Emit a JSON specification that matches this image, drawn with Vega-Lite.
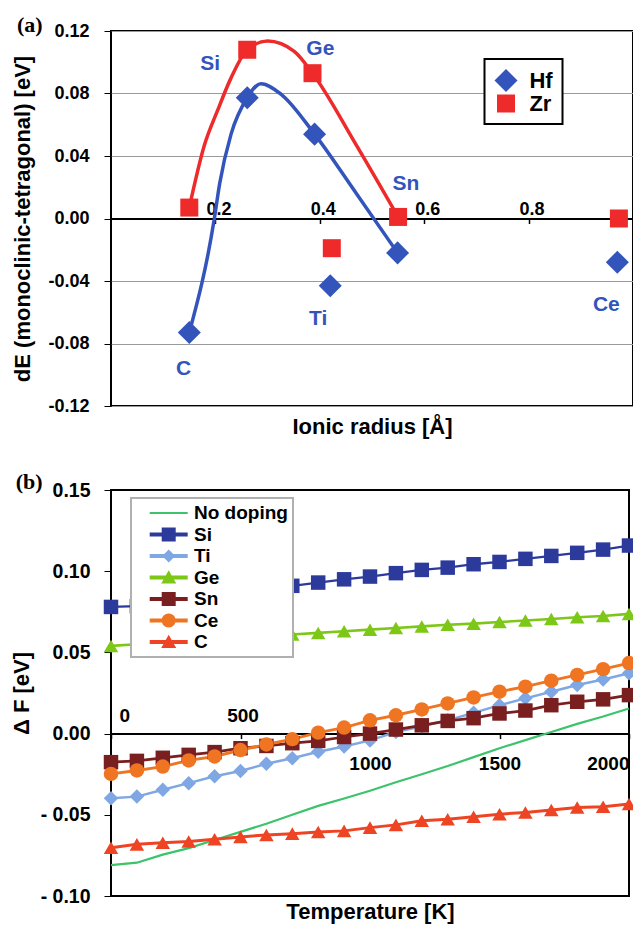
{
  "$schema": "https://vega.github.io/schema/vega-lite/v6.json",
  "background": "white",
  "padding": {"left": 9, "top": 13, "right": 0, "bottom": 0},
  "spacing": 31,
  "config": {
    "font": "Liberation Sans",
    "view": {"stroke": "black", "strokeWidth": 2},
    "axis": {"labelFont": "Liberation Sans", "labelFontWeight": "bold", "labelColor": "black", "titleFont": "Liberation Sans", "titleFontWeight": "bold", "titleColor": "black", "tickColor": "black", "domainColor": "black", "labelFontSize": 18, "titleFontSize": 22},
    "legend": {"labelFont": "Liberation Sans", "labelFontWeight": "bold", "labelColor": "black", "strokeWidth": 2}
  },
  "vconcat": [
    {
      "width": 522,
      "height": 375,
      "title": {"text": "(a)", "anchor": "start", "frame": "bounds", "font": "Liberation Serif", "fontSize": 22, "fontWeight": "bold", "color": "black", "baseline": "alphabetic", "offset": -32, "dx": 5},
      "encoding": {
        "x": {"field": "r", "type": "quantitative", "scale": {"domain": [0, 1], "nice": false, "zero": false},
          "axis": {"orient": "bottom", "offset": -187.5, "values": [0.2, 0.4, 0.6, 0.8], "format": ".1f", "grid": false, "domainWidth": 2, "tickSize": 5, "tickWidth": 1.5, "labelBaseline": "alphabetic", "labelPadding": -9.5, "labelOffset": 3, "title": "Ionic radius [Å]", "titlePadding": 192}},
        "y": {"field": "dE", "type": "quantitative", "scale": {"domain": [-0.12, 0.12], "nice": false, "zero": false},
          "axis": {"values": [-0.12, -0.08, -0.04, 0, 0.04, 0.08, 0.12], "labelExpr": "(datum.value < 0 ? '-' : '') + format(abs(datum.value), '.2f')", "grid": true, "gridColor": {"condition": {"test": "datum.value == 0", "value": "black"}, "value": "#9a9a9a"}, "gridWidth": 1.2, "domain": false, "tickSize": 7, "labelPadding": 15, "title": "dE (monoclinic-tetragonal) [eV]", "titlePadding": 13}}
      },
      "layer": [
        {
          "data": {"values": [
            {"metal": "Zr", "r": 0.150, "dE": 0.007},
            {"metal": "Zr", "r": 0.179, "dE": 0.047},
            {"metal": "Zr", "r": 0.204, "dE": 0.069},
            {"metal": "Zr", "r": 0.230, "dE": 0.090},
            {"metal": "Zr", "r": 0.261, "dE": 0.108},
            {"metal": "Zr", "r": 0.300, "dE": 0.1136},
            {"metal": "Zr", "r": 0.351, "dE": 0.107},
            {"metal": "Zr", "r": 0.386, "dE": 0.093},
            {"metal": "Zr", "r": 0.470, "dE": 0.047},
            {"metal": "Zr", "r": 0.550, "dE": 0.001},
            {"metal": "Hf", "r": 0.150, "dE": -0.073},
            {"metal": "Hf", "r": 0.198, "dE": 0.0},
            {"metal": "Hf", "r": 0.208, "dE": 0.022},
            {"metal": "Hf", "r": 0.230, "dE": 0.054},
            {"metal": "Hf", "r": 0.261, "dE": 0.0773},
            {"metal": "Hf", "r": 0.287, "dE": 0.0863},
            {"metal": "Hf", "r": 0.326, "dE": 0.0795},
            {"metal": "Hf", "r": 0.390, "dE": 0.054},
            {"metal": "Hf", "r": 0.470, "dE": 0.016},
            {"metal": "Hf", "r": 0.549, "dE": -0.022}
          ]},
          "mark": {"type": "line", "interpolate": "monotone", "strokeWidth": 3.5},
          "encoding": {
            "color": {"field": "metal", "type": "nominal", "scale": {"domain": ["Hf", "Zr"], "range": ["#3355bb", "#ee2a2a"]}, "legend": null}
          }
        },
        {
          "data": {"values": [
            {"metal": "Hf", "dopant": "C", "r": 0.150, "dE": -0.073},
            {"metal": "Hf", "dopant": "Si", "r": 0.261, "dE": 0.0773},
            {"metal": "Hf", "dopant": "Ge", "r": 0.390, "dE": 0.054},
            {"metal": "Hf", "dopant": "Ti", "r": 0.420, "dE": -0.043},
            {"metal": "Hf", "dopant": "Sn", "r": 0.549, "dE": -0.022},
            {"metal": "Hf", "dopant": "Ce", "r": 0.970, "dE": -0.028},
            {"metal": "Zr", "dopant": "C", "r": 0.150, "dE": 0.007},
            {"metal": "Zr", "dopant": "Si", "r": 0.261, "dE": 0.108},
            {"metal": "Zr", "dopant": "Ge", "r": 0.386, "dE": 0.093},
            {"metal": "Zr", "dopant": "Ti", "r": 0.423, "dE": -0.019},
            {"metal": "Zr", "dopant": "Sn", "r": 0.550, "dE": 0.001},
            {"metal": "Zr", "dopant": "Ce", "r": 0.973, "dE": 0.0}
          ]},
          "mark": {"type": "point", "filled": true, "opacity": 1},
          "encoding": {
            "color": {"field": "metal", "type": "nominal", "scale": {"domain": ["Hf", "Zr"], "range": ["#3355bb", "#ee2a2a"]},
              "legend": {"orient": "none", "legendX": 373.5, "legendY": 28, "title": null, "fillColor": "white", "strokeColor": "black", "padding": 9.5, "labelFontSize": 22, "symbolSize": 200, "rowPadding": 0, "labelOffset": 11.4, "symbolStrokeWidth": 0}},
            "shape": {"field": "metal", "type": "nominal", "scale": {"domain": ["Hf", "Zr"], "range": ["diamond", "square"]},
              "legend": {"orient": "none", "legendX": 373.5, "legendY": 28, "title": null, "fillColor": "white", "strokeColor": "black", "padding": 9.5, "labelFontSize": 22, "symbolSize": 200, "rowPadding": 0, "labelOffset": 11.4, "symbolStrokeWidth": 0}},
            "size": {"field": "metal", "type": "ordinal", "scale": {"domain": ["Hf", "Zr"], "range": [530, 324]}, "legend": null}
          }
        },
        {
          "data": {"values": [
            {"label": "Si", "r": 0.190, "dE": 0.0992},
            {"label": "Ge", "r": 0.401, "dE": 0.1088},
            {"label": "Sn", "r": 0.565, "dE": 0.0219},
            {"label": "Ti", "r": 0.397, "dE": -0.0643},
            {"label": "C", "r": 0.139, "dE": -0.096},
            {"label": "Ce", "r": 0.949, "dE": -0.0554}
          ]},
          "mark": {"type": "text", "font": "Liberation Sans", "fontSize": 21, "fontWeight": "bold", "color": "#3355bb", "align": "center", "baseline": "middle"},
          "encoding": {"text": {"field": "label", "type": "nominal"}}
        }
      ],
      "resolve": {"scale": {"color": "independent", "shape": "independent", "size": "independent"}}
    },
    {
      "width": 518,
      "height": 406,
      "title": {"text": "(b)", "anchor": "start", "frame": "bounds", "font": "Liberation Serif", "fontSize": 22, "fontWeight": "bold", "color": "black", "baseline": "alphabetic", "offset": -31, "dx": 5},
      "data": {"values": [
        {"T": 0, "No doping": -0.0810, "Si": 0.0780, "Ti": -0.0398, "Ge": 0.0540, "Sn": -0.0176, "Ce": -0.0248, "C": -0.0703},
        {"T": 100, "No doping": -0.0795, "Si": 0.0785, "Ti": -0.0388, "Ge": 0.0550, "Sn": -0.0168, "Ce": -0.0227, "C": -0.0682},
        {"T": 200, "No doping": -0.0745, "Si": 0.0800, "Ti": -0.0346, "Ge": 0.0560, "Sn": -0.0149, "Ce": -0.0203, "C": -0.0672},
        {"T": 300, "No doping": -0.0705, "Si": 0.0820, "Ti": -0.0305, "Ge": 0.0570, "Sn": -0.0131, "Ce": -0.0165, "C": -0.0665},
        {"T": 400, "No doping": -0.0655, "Si": 0.0840, "Ti": -0.0263, "Ge": 0.0580, "Sn": -0.0114, "Ce": -0.0141, "C": -0.0650},
        {"T": 500, "No doping": -0.0605, "Si": 0.0865, "Ti": -0.0230, "Ge": 0.0590, "Sn": -0.0090, "Ce": -0.0101, "C": -0.0636},
        {"T": 600, "No doping": -0.0555, "Si": 0.0890, "Ti": -0.0186, "Ge": 0.0600, "Sn": -0.0076, "Ce": -0.0067, "C": -0.0624},
        {"T": 700, "No doping": -0.0500, "Si": 0.0910, "Ti": -0.0152, "Ge": 0.0610, "Sn": -0.0059, "Ce": -0.0034, "C": -0.0616},
        {"T": 800, "No doping": -0.0445, "Si": 0.0930, "Ti": -0.0112, "Ge": 0.0620, "Sn": -0.0045, "Ce": 0.0006, "C": -0.0606},
        {"T": 900, "No doping": -0.0400, "Si": 0.0950, "Ti": -0.0079, "Ge": 0.0630, "Sn": -0.0021, "Ce": 0.0037, "C": -0.0599},
        {"T": 1000, "No doping": -0.0352, "Si": 0.0967, "Ti": -0.0042, "Ge": 0.0640, "Sn": 0.0000, "Ce": 0.0082, "C": -0.0579},
        {"T": 1100, "No doping": -0.0300, "Si": 0.0988, "Ti": 0.0010, "Ge": 0.0650, "Sn": 0.0025, "Ce": 0.0113, "C": -0.0562},
        {"T": 1200, "No doping": -0.0250, "Si": 0.1008, "Ti": 0.0045, "Ge": 0.0660, "Sn": 0.0051, "Ce": 0.0149, "C": -0.0537},
        {"T": 1300, "No doping": -0.0200, "Si": 0.1022, "Ti": 0.0082, "Ge": 0.0670, "Sn": 0.0078, "Ce": 0.0186, "C": -0.0527},
        {"T": 1400, "No doping": -0.0145, "Si": 0.1043, "Ti": 0.0128, "Ge": 0.0677, "Sn": 0.0095, "Ce": 0.0223, "C": -0.0512},
        {"T": 1500, "No doping": -0.0090, "Si": 0.1057, "Ti": 0.0175, "Ge": 0.0687, "Sn": 0.0124, "Ce": 0.0258, "C": -0.0496},
        {"T": 1600, "No doping": -0.0040, "Si": 0.1076, "Ti": 0.0217, "Ge": 0.0696, "Sn": 0.0142, "Ce": 0.0289, "C": -0.0486},
        {"T": 1700, "No doping": 0.0010, "Si": 0.1094, "Ti": 0.0258, "Ge": 0.0706, "Sn": 0.0175, "Ce": 0.0326, "C": -0.0471},
        {"T": 1800, "No doping": 0.0060, "Si": 0.1113, "Ti": 0.0299, "Ge": 0.0716, "Sn": 0.0196, "Ce": 0.0361, "C": -0.0455},
        {"T": 1900, "No doping": 0.0105, "Si": 0.1133, "Ti": 0.0333, "Ge": 0.0724, "Sn": 0.0211, "Ce": 0.0397, "C": -0.0450},
        {"T": 2000, "No doping": 0.0155, "Si": 0.1158, "Ti": 0.0372, "Ge": 0.0737, "Sn": 0.0237, "Ce": 0.0434, "C": -0.0434}
      ]},
      "transform": [{"fold": ["No doping", "Si", "Ti", "Ge", "Sn", "Ce", "C"], "as": ["series", "dF"]}],
      "encoding": {
        "y": {"field": "dF", "type": "quantitative", "scale": {"domain": [-0.1, 0.15], "nice": false, "zero": false},
          "axis": {"values": [-0.1, -0.05, 0, 0.05, 0.1, 0.15], "labelExpr": "(datum.value < 0 ? '- ' : '') + format(abs(datum.value), '.2f')", "grid": false, "domain": false, "tickSize": 7, "labelPadding": 14, "labelFontSize": 19.5, "title": "Δ F  [eV]", "titlePadding": 6.5}}
      },
      "layer": [
        {
          "mark": {"type": "line"},
          "encoding": {
            "x": {"field": "T", "type": "quantitative", "scale": {"domain": [0, 2000], "nice": false, "zero": false},
              "axis": {"orient": "bottom", "offset": -162.4, "values": [0, 500, 1000, 1500, 2000], "format": "d", "labelExpr": "datum.value >= 1000 ? datum.label : ''", "grid": false, "domainWidth": 2, "tickSize": 5, "tickWidth": 1.5, "labelFontSize": 19, "labelBaseline": "alphabetic", "labelPadding": 31, "labelFlush": true, "title": "Temperature [K]", "titlePadding": 128}},
            "color": {"field": "series", "type": "nominal", "scale": {"domain": ["No doping", "Si", "Ti", "Ge", "Sn", "Ce", "C"], "range": ["#3cc36b", "#2b3a9b", "#7fa7e3", "#7dc717", "#7a1f1f", "#f07522", "#ee4423"]}, "legend": null},
            "strokeWidth": {"field": "series", "type": "ordinal", "scale": {"domain": ["No doping", "Si", "Ti", "Ge", "Sn", "Ce", "C"], "range": [2.2, 3, 3, 3, 3, 3, 3]}, "legend": null}
          }
        },
        {
          "transform": [{"filter": "datum.series != 'No doping'"}],
          "mark": {"type": "point", "filled": true, "opacity": 1, "size": 210},
          "encoding": {
            "x": {"field": "T", "type": "quantitative", "scale": {"domain": [0, 2000], "nice": false, "zero": false},
              "axis": {"orient": "top", "offset": -243.6, "values": [0, 500], "format": "d", "grid": false, "domain": false, "ticks": false, "labelFontSize": 19, "labelBaseline": "alphabetic", "labelPadding": 12, "labelOffset": {"condition": {"test": "datum.value == 0", "value": 8}, "value": 2}, "title": null}},
            "color": {"field": "series", "type": "nominal", "scale": {"domain": ["No doping", "Si", "Ti", "Ge", "Sn", "Ce", "C"], "range": ["#3cc36b", "#2b3a9b", "#7fa7e3", "#7dc717", "#7a1f1f", "#f07522", "#ee4423"]}, "legend": null},
            "shape": {"field": "series", "type": "nominal", "scale": {"domain": ["No doping", "Si", "Ti", "Ge", "Sn", "Ce", "C"], "range": ["circle", "square", "diamond", "triangle-up", "square", "circle", "triangle-up"]}, "legend": null}
          }
        },
        {
          "transform": [{"filter": "false"}],
          "mark": {"type": "point", "filled": true, "opacity": 1},
          "encoding": {
            "x": {"field": "T", "type": "quantitative", "scale": {"domain": [0, 2000], "nice": false, "zero": false}, "axis": null},
            "color": {"field": "series", "type": "nominal", "scale": {"domain": ["No doping", "Si", "Ti", "Ge", "Sn", "Ce", "C"], "range": ["#3cc36b", "#2b3a9b", "#7fa7e3", "#7dc717", "#7a1f1f", "#f07522", "#ee4423"]},
              "legend": {"orient": "none", "legendX": 20, "legendY": 8, "title": null, "fillColor": "white", "strokeColor": "#b0b0b0", "padding": 5, "labelFontSize": 19, "labelExpr": "datum.label + '\u00a0\u00a0\u00a0'", "symbolSize": 400, "symbolStrokeWidth": 0, "rowPadding": 1.5, "labelOffset": 38, "symbolOpacity": 1}},
            "shape": {"field": "series", "type": "nominal", "scale": {"domain": ["No doping", "Si", "Ti", "Ge", "Sn", "Ce", "C"], "range": [
              "M0.37,-0.11H4.17V0.11H0.37Z",
              "M0.37,-0.2H4.17V0.2H0.37Z M1.57,-0.7H2.97V0.7H1.57Z",
              "M0.37,-0.2H4.17V0.2H0.37Z M2.27,-0.65L2.92,0L2.27,0.65L1.62,0Z",
              "M0.37,-0.2H4.17V0.2H0.37Z M2.27,-0.72L3.02,0.6H1.52Z",
              "M0.37,-0.2H4.17V0.2H0.37Z M1.57,-0.7H2.97V0.7H1.57Z",
              "M0.37,-0.2H4.17V0.2H0.37Z M1.57,0A0.7,0.7,0,1,1,2.97,0A0.7,0.7,0,1,1,1.57,0Z",
              "M0.37,-0.2H4.17V0.2H0.37Z M2.27,-0.72L3.02,0.6H1.52Z"
            ]},
              "legend": {"orient": "none", "legendX": 20, "legendY": 8, "title": null, "fillColor": "white", "strokeColor": "#b0b0b0", "padding": 5, "labelFontSize": 19, "labelExpr": "datum.label + '\u00a0\u00a0\u00a0'", "symbolSize": 400, "symbolStrokeWidth": 0, "rowPadding": 1.5, "labelOffset": 38, "symbolOpacity": 1}}
          }
        }
      ],
      "resolve": {"scale": {"color": "independent", "shape": "independent", "strokeWidth": "independent"}, "axis": {"x": "independent"}}
    }
  ]
}
